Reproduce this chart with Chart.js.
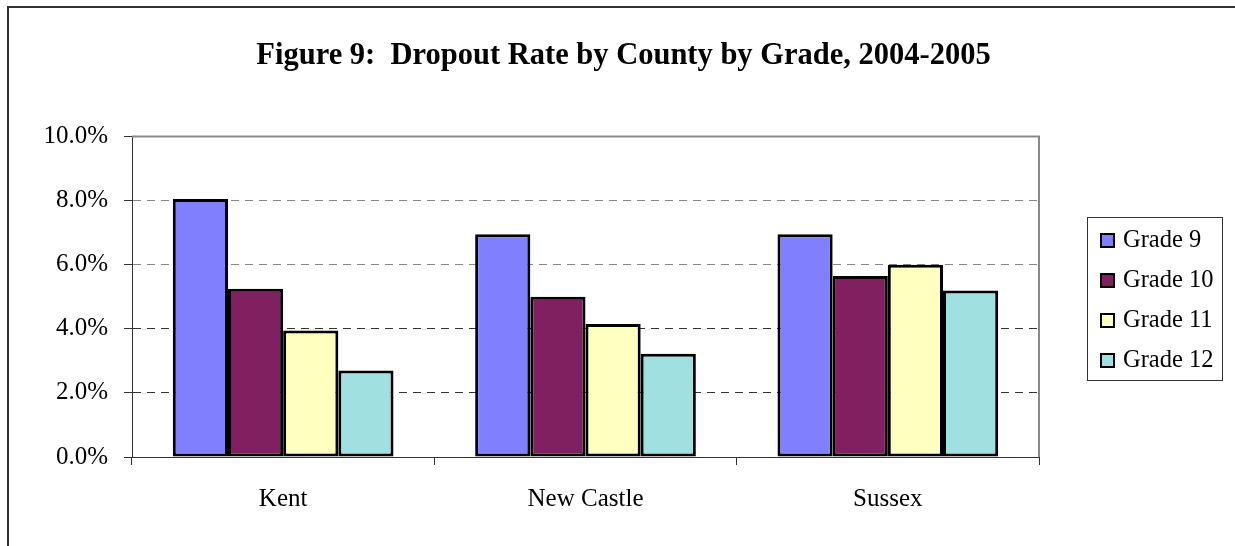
<!DOCTYPE html>
<html>
<head>
<meta charset="utf-8">
<script src="https://cdn.jsdelivr.net/npm/chart.js@4/dist/chart.umd.min.js"></script>
<style>
  body { margin: 0; background: #fff; overflow: hidden; }
  #page-frame { position: absolute; left: 7px; top: 6px; width: 1400px; height: 700px;
    border-left: 2px solid #333; border-top: 2px solid #333; }
  #graph { position: absolute; left: 0; top: 0; }
  #graph-legend { position: absolute; left: 1087px; top: 217px; width: 134px; height: 161px;
    border: 1px solid #333; padding-top: 1px; box-sizing: content-box;
    font-family: "Liberation Serif", "Times New Roman", serif; font-size: 24.5px; color: #000; }
  .legend-row { height: 40px; line-height: 40px; padding-left: 12px; white-space: nowrap; }
  .legend-box { display: inline-block; width: 11px; height: 11px; border: 2px solid #000;
    margin-right: 8px; vertical-align: -1px; }
</style>
</head>
<body>
<div id="page-frame"></div>
<canvas id="graph" width="1235" height="546"></canvas>
<div id="graph-legend"></div>
<script>
const counties = ["Kent", "New Castle", "Sussex"];
const gradeLabels = ["Grade 9", "Grade 10", "Grade 11", "Grade 12"];
const grade9 = [8.05, 6.95, 6.95];
const grade10 = [5.25, 5.0, 5.65];
const grade11 = [3.95, 4.15, 6.0];
const grade12 = [2.7, 3.22, 5.2];
const yTicks = [0, 2, 4, 6, 8, 10];

const colores = ["#8080FF", "#802060", "#FFFFC0", "#A0E0E0"];
const serie = [grade9, grade10, grade11, grade12];

const fuente = "'Liberation Serif', 'Times New Roman', serif";

let datasets = [];
for (let i = 0; i < serie.length; i++) {
  datasets.push({
    label: gradeLabels[i],
    data: serie[i],
    backgroundColor: colores[i],
    borderColor: "#000",
    borderWidth: 3,
    borderSkipped: false,
    categoryPercentage: 0.73,
    barPercentage: 1.0,
  });
}

// marco gris arriba y a la derecha del area de trazado
const marcoPlot = {
  id: "marcoPlot",
  beforeDatasetsDraw(chart) {
    const { ctx, chartArea: a } = chart;
    ctx.save();
    ctx.strokeStyle = "#888";
    ctx.lineWidth = 2;
    ctx.beginPath();
    ctx.moveTo(a.left, a.top);
    ctx.lineTo(a.right, a.top);
    ctx.lineTo(a.right, a.bottom);
    ctx.stroke();
    ctx.restore();
  },
};

const ctx = document.getElementById("graph").getContext("2d");
new Chart(ctx, {
  type: "bar",
  data: { labels: counties, datasets },
  options: {
    responsive: false,
    animation: false,
    layout: { padding: { left: 12, right: 0, top: 0, bottom: 0 } },
    plugins: {
      legend: { display: false },
      tooltip: { enabled: false },
      title: {
        display: true,
        text: "Figure 9:  Dropout Rate by County by Grade, 2004-2005",
        color: "#000",
        font: { family: fuente, size: 30.5, weight: "bold" },
        padding: { top: 38, bottom: 62 },
      },
    },
    scales: {
      x: {
        ticks: { color: "#000", font: { family: fuente, size: 25 }, padding: 19, maxRotation: 0 },
        grid: { offset: true, drawOnChartArea: false, tickLength: 8, tickColor: "#333" },
        border: { color: "#333", width: 1 },
        afterFit(scale) { scale.height = 89; },
      },
      y: {
        min: 0,
        max: 10,
        afterBuildTicks(scale) { scale.ticks = yTicks.map((v) => ({ value: v })); },
        ticks: {
          color: "#000",
          font: { family: fuente, size: 25 },
          padding: 16,
          callback: (v) => v.toFixed(1) + "%",
        },
        grid: {
          color: (c) => (c.tick && c.tick.value >= 6 ? "#888" : "#333"),
          tickLength: 8,
          tickColor: "#333",
          tickBorderDash: [],
        },
        border: { color: "#333", width: 1, dash: [8, 6] },
        afterFit(scale) { scale.width = 120; },
      },
      // espacio reservado para la leyenda
      espacio: {
        position: "right",
        display: true,
        ticks: { display: false },
        grid: { display: false, drawTicks: false },
        border: { display: false },
        afterFit(scale) { scale.width = 196; },
      },
    },
  },
  plugins: [marcoPlot],
});

// leyenda en html
let htmlLeyenda = "";
for (let i = 0; i < gradeLabels.length; i++) {
  htmlLeyenda += `<div class="legend-row"><span class="legend-box" style="background:${colores[i]}"></span>${gradeLabels[i]}</div>`;
}
document.getElementById("graph-legend").innerHTML = htmlLeyenda;
</script>
</body>
</html>
